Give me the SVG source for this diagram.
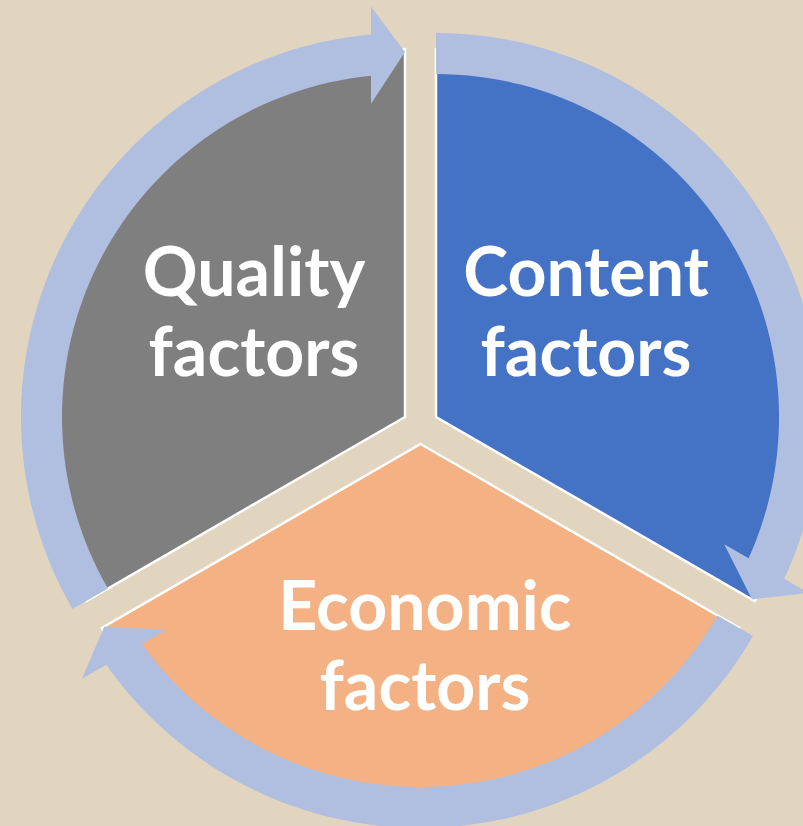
<svg xmlns="http://www.w3.org/2000/svg" width="803" height="826" viewBox="0 0 803 826">
  <style>
    .sector { stroke: #FFFFFF; stroke-width: 2.5; stroke-linejoin: miter; }
    .arrow { fill: #B0BEE0; stroke: none; }
    .label { font-family: Lato, "Open Sans", "Liberation Sans", sans-serif; font-weight: bold; font-size: 68px; fill: #FFFFFF; text-anchor: middle; }
  </style>
  <rect x="0" y="0" width="803" height="826" fill="#E2D5C0"/>
  <g id="quality">
    <path class="sector" fill="#7F7F7F" d="M 405 417 L 86.3 601 A 368 368 0 0 1 405 49 Z"/>
  </g>
  <g id="content">
    <path class="sector" fill="#4472C4" d="M 436 417 L 436 49 A 368 368 0 0 1 754.7 601 Z"/>
  </g>
  <g id="economic">
    <path class="sector" fill="#F4B183" d="M 420.5 444 L 739.2 628 A 368 368 0 0 1 101.8 628 Z"/>
  </g>
  <g id="connectors">
    <path class="arrow" d="M 107.95 588.5 L 72.45 609 A 384 384 0 0 1 371 34.5 L 371 6.4 L 405 52 L 371 103.8 L 371 75.7 A 343 343 0 0 0 107.95 588.5 Z"/>
    <path class="arrow" d="M 436 74 L 436 33 A 384 384 0 0 1 784.25 578.8 L 808.6 592.9 L 752.1 599.5 L 724.2 544.2 L 748.6 558.2 A 343 343 0 0 0 436 74 Z"/>
    <path class="arrow" d="M 717.55 615.5 L 753.05 636 A 384 384 0 0 1 106.25 664.7 L 81.9 678.7 L 104.4 626.5 L 166.3 630 L 141.9 644.1 A 343 343 0 0 0 717.55 615.5 Z"/>
  </g>
  <g id="labels">
    <text class="label" x="254" y="296">Quality</text>
    <text class="label" x="254" y="376">factors</text>
    <text class="label" x="586" y="296">Content</text>
    <text class="label" x="586" y="376">factors</text>
    <text class="label" x="425" y="630">Economic</text>
    <text class="label" x="425" y="710">factors</text>
  </g>
</svg>
